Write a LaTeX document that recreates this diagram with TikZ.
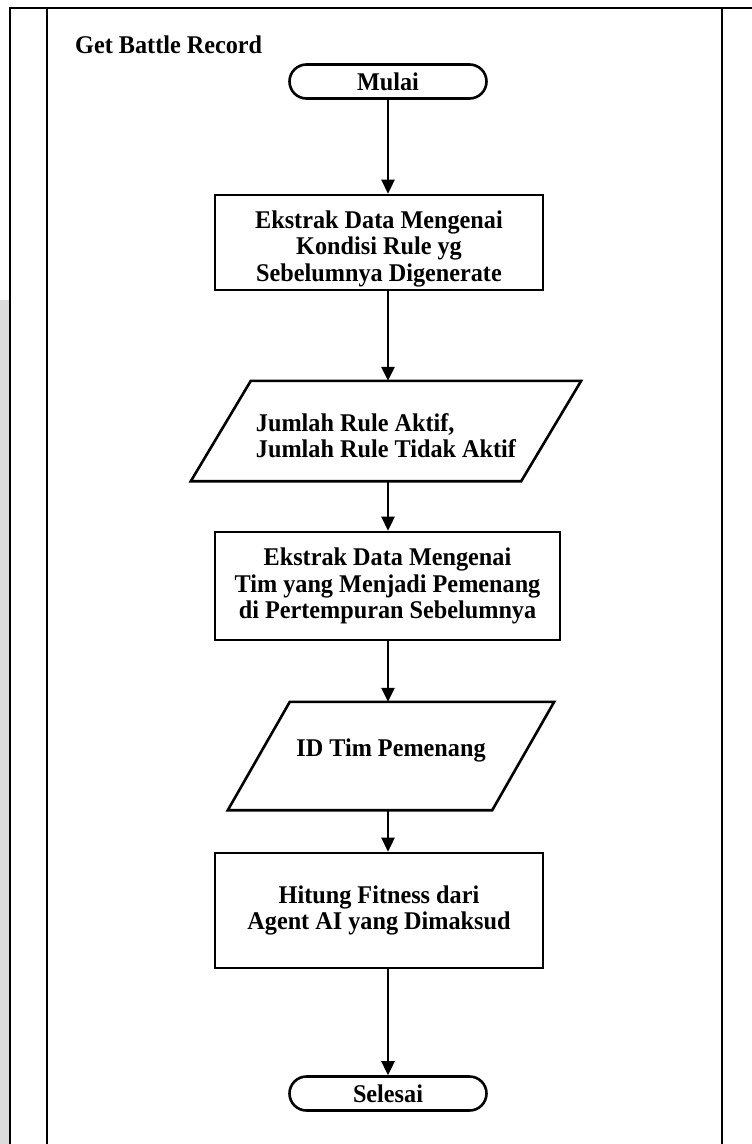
\documentclass[tikz,border=0pt]{standalone}
\usepackage{fontspec}
\setmainfont[FakeStretch=0.95]{Liberation Serif}
\usetikzlibrary{arrows.meta,shapes.misc}
\begin{document}
\begin{tikzpicture}[x=1pt,y=-1pt,
  frameline/.style={line width=2.8pt},
  txt/.style={font=\bfseries\fontsize{25.5}{26.5}\selectfont, align=center},
  procbox/.style={draw, line width=2.6pt, txt, minimum width=328pt, minimum height=96pt, inner sep=0pt},
  termbox/.style={draw, line width=2.6pt, txt, rounded rectangle, minimum width=197pt, minimum height=34pt, inner sep=0pt},
  datatext/.style={txt, inner sep=0pt},
  dataline/.style={line width=2.6pt, line join=miter},
  flow/.style={line width=2.6pt, -{Triangle[width=13pt,length=14pt]}}
]
\useasboundingbox (0,0) rectangle (752,1144);
\fill[white] (0,0) rectangle (752,1144);
\fill[gray!28] (0,300) rectangle (9,1144);

% swimlane frame
\draw[frameline] (10,1144) -- (10,8) -- (752,8);
\draw[frameline] (47,8) -- (47,1144);
\draw[frameline] (722,8) -- (722,1144);
\node[anchor=base west, inner sep=0pt, font=\bfseries\fontsize{25.5}{26}\selectfont] (title) at (75,53) {Get Battle Record};

% flow steps
\node[termbox] (start) at (388,81.5) {Mulai};
\node[procbox, minimum height=95pt] (ekstrak1) at (379,242.5) {\rule{0pt}{30pt}Ekstrak Data Mengenai\\Kondisi Rule yg\\Sebelumnya Digenerate};

\node[datatext, align=left, minimum width=330pt, minimum height=100pt] (rules) at (386,431) {\rule{0pt}{27pt}Jumlah Rule Aktif,\\Jumlah Rule Tidak Aktif};
\draw[dataline] ([xshift=-30pt]rules.south west) -- ([xshift=-30pt]rules.south east)
  -- ([xshift=30pt]rules.north east) -- ([xshift=30pt]rules.north west) -- cycle;

\node[procbox, minimum width=345pt, minimum height=108pt] (ekstrak2) at (387.5,586) {Ekstrak Data Mengenai\\Tim yang Menjadi Pemenang\\di Pertempuran Sebelumnya};

\node[datatext, minimum width=264pt, minimum height=108pt, text height=0pt, text depth=0pt] (idtim) at (391,756) {ID Tim Pemenang};
\draw[dataline] ([xshift=-31pt]idtim.south west) -- ([xshift=-31pt]idtim.south east)
  -- ([xshift=31pt]idtim.north east) -- ([xshift=31pt]idtim.north west) -- cycle;

\node[procbox, minimum height=115pt] (hitung) at (379,910.5) {Hitung Fitness dari\\Agent AI yang Dimaksud};
\node[termbox] (end) at (388,1093.5) {Selesai};

% connectors
\draw[flow] (start.south) -- (start.south |- ekstrak1.north);
\draw[flow] (start.south |- ekstrak1.south) -- (start.south |- rules.north);
\draw[flow] (start.south |- rules.south) -- (start.south |- ekstrak2.north);
\draw[flow] (start.south |- ekstrak2.south) -- (start.south |- idtim.north);
\draw[flow] (start.south |- idtim.south) -- (start.south |- hitung.north);
\draw[flow] (start.south |- hitung.south) -- (end.north);
\end{tikzpicture}
\end{document}
